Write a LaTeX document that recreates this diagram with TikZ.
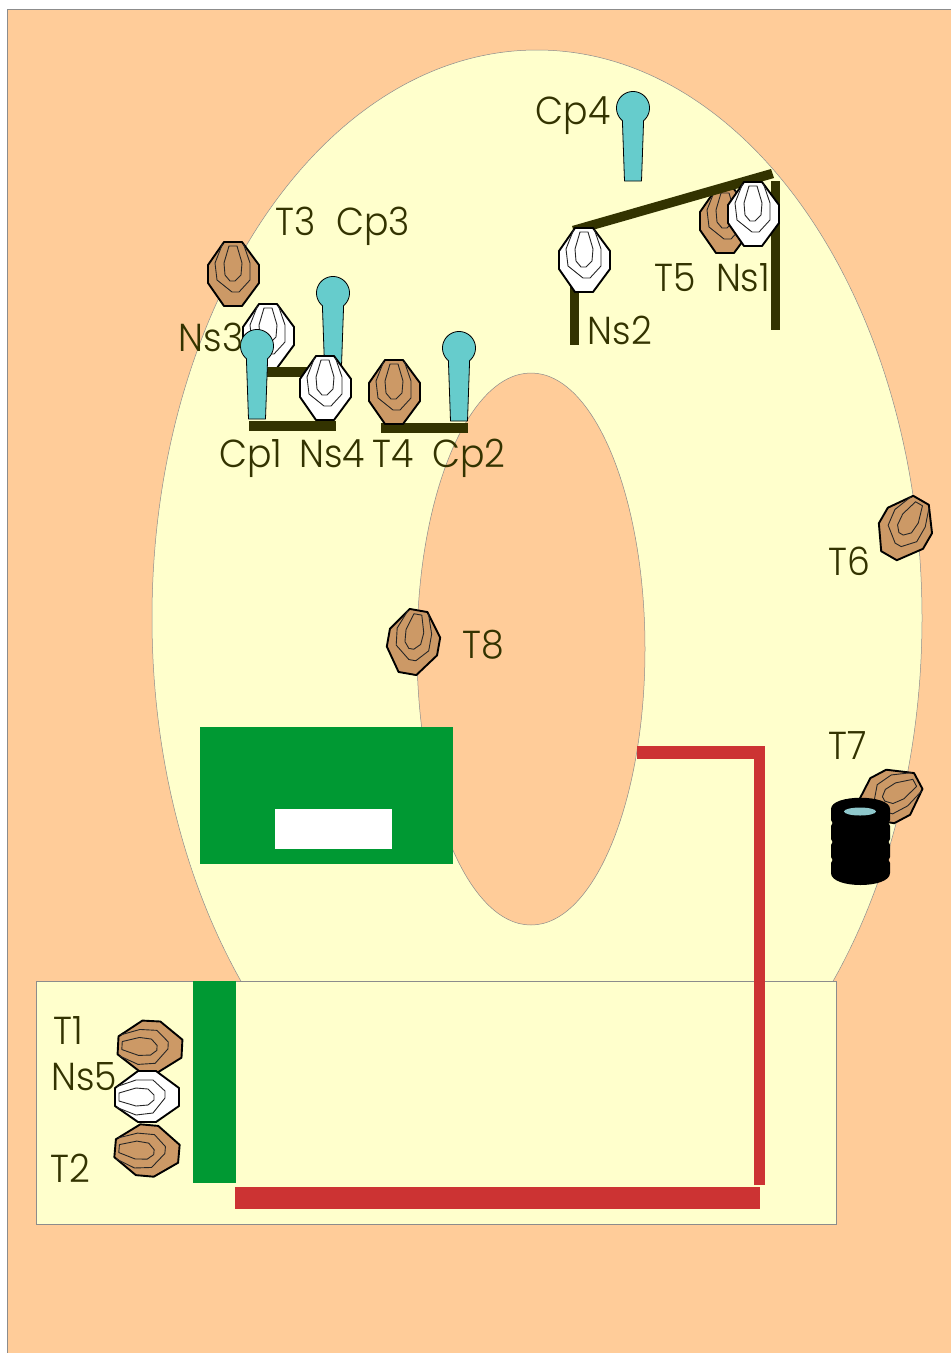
\documentclass[tikz,border=0pt]{standalone}
\usepackage{fontspec}
\setmainfont{Poppins Light}[FakeStretch=0.93]
\definecolor{bgo}{HTML}{FFCC99}
\definecolor{bgy}{HTML}{FFFFCC}
\definecolor{grn}{HTML}{009933}
\definecolor{rd}{HTML}{CC3333}
\definecolor{teal2}{HTML}{66CCCC}
\definecolor{brn}{HTML}{CC9966}
\definecolor{drk}{HTML}{333300}
\definecolor{wat}{HTML}{8FC8CC}
\tikzset{
  target/.pic={
    \filldraw[fill=#1,draw=black,line width=1.9pt,line join=round]
      (-9,-32)--(9,-32)--(26,-9)--(26,9)--(9,32)--(-9,32)--(-25,9)--(-25,-9)--cycle;
    \draw[black!85,line width=.9pt,line join=round]
      (-10.5,-30)--(-18,-11)--(-16,6)--(-1,18)--(6,18)--(17,6)--(17,-11)--(10.5,-30);
    \draw[black!85,line width=.9pt,line join=round]
      (-4,-28)--(4,-28)--(9,-11)--(8,1)--(2,7)--(-3,7)--(-8,1)--(-9,-11)--cycle;
  },
  capper/.pic={
    \filldraw[fill=teal2,draw=black,line width=.8pt,line join=round]
      (-8.5,73)--(-10.6,12.6)--plot[domain=-140:140,samples=50] ({16.5*sin(\x)},{-16.5*cos(\x)})--(8.5,73)--cycle;
  },
  lab/.style={anchor=base,text=drk,font=\fontsize{39}{39}\selectfont,inner sep=0pt},
  beam/.style={fill=drk,draw=none},
  thin edge/.style={draw=black!45,line width=.5pt}
}
\begin{document}
\begin{tikzpicture}[x=1pt,y=-1pt]
\useasboundingbox (0,0) rectangle (951,1353);
\fill[white] (0,0) rectangle (951,1353);
\filldraw[fill=bgo,thin edge] (7,9) rectangle (951,1353);
\filldraw[fill=bgy,thin edge] (537,618) ellipse [x radius=385pt,y radius=568pt];
\filldraw[fill=bgo,thin edge] (531,649) ellipse [x radius=114pt,y radius=276pt];
\filldraw[fill=bgy,thin edge] (36,981) rectangle (836,1224);
% green and red
\fill[grn] (200,727) rectangle (453,864);
\fill[white] (275,809) rectangle (392,849);
\fill[grn] (193,981) rectangle (236,1183);
\fill[rd] (637,746) rectangle (765,759);
\fill[rd] (754,759) rectangle (765,1185);
\fill[rd] (235,1187) rectangle (760,1209);
% walls
\fill[beam] (771,181) rectangle (780,330);
\fill[beam] (570,285) rectangle (579,345);
\pic at (725,221) {target=brn};
\fill[beam] (572,226)--(771,169)--(774,178)--(575,235)--cycle;
\pic at (753,214) {target=white};
\pic at (584,260) {target=white};
\pic at (633,108) {capper};
% left cluster
\pic at (233,274) {target=brn};
\pic at (268,336) {target=white};
\fill[beam] (266,367) rectangle (312,377);
\pic at (333,293) {capper};
\pic at (257,346) {capper};
\fill[beam] (249,421) rectangle (336,431);
\fill[beam] (381,423) rectangle (468,433);
\pic at (325,388) {target=white};
\pic at (394,392) {target=brn};
\pic at (459,348) {capper};
% singles
\pic[rotate=-30] at (905,528) {target=brn};
\pic[rotate=-10] at (413,642) {target=brn};
\pic[rotate=-62] at (890,796) {target=brn};
\pic[rotate=87] at (150,1047) {target=brn};
\pic[rotate=90] at (147,1097) {target=white};
\pic[rotate=85] at (147,1151) {target=brn};
% barrel
\fill[black] (831,809) .. controls (831,794) and (890,794) .. (890,809)
  -- (890,820) -- (888.5,823) -- (890,826) -- (890,839) -- (888.5,842) -- (890,845)
  -- (890,857) -- (888.5,860) -- (890,863) -- (890,873)
  .. controls (890,889) and (831,889) .. (831,873)
  -- (831,863) -- (832.5,860) -- (831,857) -- (831,845) -- (832.5,842) -- (831,839)
  -- (831,826) -- (832.5,823) -- (831,820) -- cycle;
\fill[wat] (860,811.5) ellipse [x radius=16pt,y radius=4pt];
% labels
\node[lab] (t3) at (296,235) {T3};
\node[lab] (cp3) at (373,235) {Cp3};
\node[lab] (cp4) at (573,124) {Cp4};
\node[lab] (t5) at (675,291) {T5};
\node[lab] (ns1) at (743,291) {Ns1};
\node[lab] (ns2) at (620,344) {Ns2};
\node[lab] (ns3) at (211,351) {Ns3};
\node[lab] (cp1) at (251,467) {Cp1};
\node[lab] (ns4) at (332,467) {Ns4};
\node[lab] (t4) at (393,467) {T4};
\node[lab] (cp2) at (469,467) {Cp2};
\node[lab] (t6) at (849,575) {T6};
\node[lab] (t7) at (848,759) {T7};
\node[lab] (t8) at (483,658) {T8};
\node[lab] (t1) at (68,1044) {T1};
\node[lab] (ns5) at (84,1090) {Ns5};
\node[lab] (t2) at (70,1182) {T2};
\end{tikzpicture}
\end{document}
